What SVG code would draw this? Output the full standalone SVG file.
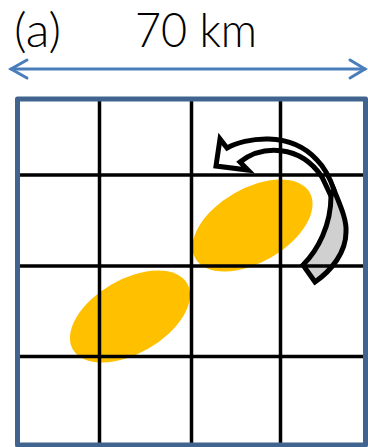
<svg xmlns="http://www.w3.org/2000/svg" width="368" height="447" viewBox="0 0 368 447">
<style>
.t{font-family:"Lato","Liberation Sans",sans-serif;font-weight:300;fill:#000;}
.g{stroke:#000;stroke-width:3.5;fill:none;}
.blob{fill:#FFC000;}
.ar{stroke:#000;stroke-width:5;stroke-linejoin:miter;}
</style>
<rect width="368" height="447" fill="#fff"/>
<g id="label-a"><text class="t" x="14" y="47" font-size="47" textLength="47" lengthAdjust="spacingAndGlyphs">(a)</text></g>
<g id="scale">
<text class="t" x="135" y="47" font-size="47" textLength="122" lengthAdjust="spacingAndGlyphs">70 km</text>
<g stroke="#4A7EBB" stroke-width="3" fill="none" stroke-linecap="round">
<line x1="11" y1="69" x2="365" y2="69"/>
<polyline points="27,60 11,69 27,78"/>
<polyline points="350,60 365,69 350,78"/>
</g>
</g>
<g id="ellipses">
<ellipse id="cell-lower" class="blob" cx="130" cy="316.5" rx="66" ry="37" transform="rotate(-30 130 316.5)"/>
<ellipse id="cell-upper" class="blob" cx="252.5" cy="225.5" rx="66" ry="37" transform="rotate(-30 252.5 225.5)"/>
</g>
<g id="rotation-arrow">
<path class="ar" fill="#fff" d="M227,148 L220,139 L216,166 L248,170 L240,162 C262,145 300,144 322,177 L331,196 L334,190 C330,178 324,167 317,160 C290,130 245,138 227,148 Z"/>
<path class="ar" fill="#D0D0D0" d="M334,190 C340,205 347,220 346,232 C346,252 332,270 315,282 L303,265 C318,250 331,225 331,196 Z"/>
</g>
<g id="grid" class="g">
<line x1="99.5" y1="99" x2="99.5" y2="445"/>
<line x1="191.5" y1="99" x2="191.5" y2="445"/>
<line x1="280.5" y1="99" x2="280.5" y2="445"/>
<line x1="17.5" y1="175" x2="365.5" y2="175"/>
<line x1="17.5" y1="266" x2="365.5" y2="266"/>
<line x1="17.5" y1="356.5" x2="365.5" y2="356.5"/>
</g>
<g id="frame"><rect x="17.5" y="99" width="348" height="346" fill="none" stroke="#41648F" stroke-width="5" stroke-linejoin="round"/></g>
</svg>
